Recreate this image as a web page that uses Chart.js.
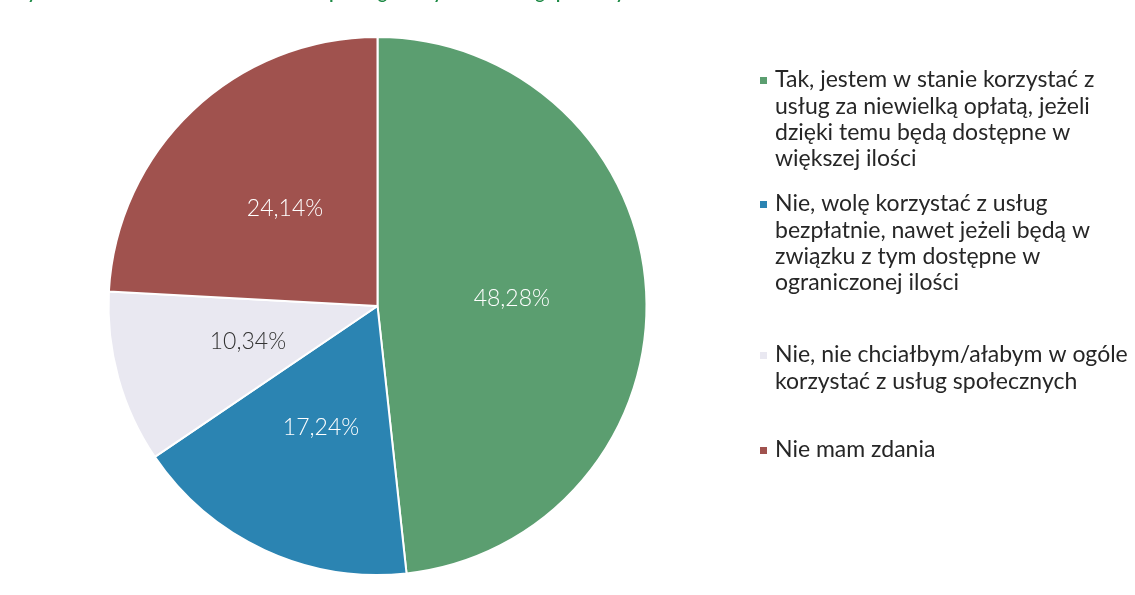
<!DOCTYPE html>
<html>
<head>
<meta charset="utf-8">
<script src="https://cdn.jsdelivr.net/npm/chart.js@4"></script>
<style>
  html, body { margin: 0; padding: 0; background: #fff; }
  #wrap { position: relative; width: 1135px; height: 595px; overflow: hidden; }
  #title {
    position: absolute; left: 10px; top: -18px;
    font: bold 17px Lato, sans-serif; color: #1d8a45; white-space: nowrap;
  }
</style>
</head>
<body>
<div id="wrap">
  <div id="title">Wykres 20. Gotowość mieszkańców do odpłatnego korzystania z usług społecznych</div>
  <canvas id="myChart" width="1135" height="595"></canvas>
</div>
<script>
const labels = [
  ['Tak, jestem w stanie korzystać z', 'usług za niewielką opłatą, jeżeli', 'dzięki temu będą dostępne w', 'większej ilości'],
  ['Nie, wolę korzystać z usług', 'bezpłatnie, nawet jeżeli będą w', 'związku z tym dostępne w', 'ograniczonej ilości'],
  ['Nie, nie chciałbym/ałabym w ogóle', 'korzystać z usług społecznych'],
  ['Nie mam zdania']
];
const values = [48.28, 17.24, 10.34, 24.14];

const colors = ['#5b9e70', '#2b84b2', '#e9e8f1', '#a0524e'];
const labelColors = ['#ffffff', '#ffffff', '#333333', '#ffffff'];
const legendTops = [80, 204, 355, 450];

// percentage labels inside the slices
const sliceLabels = {
  id: 'sliceLabels',
  afterDatasetsDraw(chart) {
    const ctx = chart.ctx;
    const meta = chart.getDatasetMeta(0);
    ctx.save();
    ctx.font = '300 23px Lato, sans-serif';
    ctx.textAlign = 'center';
    ctx.textBaseline = 'middle';
    meta.data.forEach((arc, i) => {
      const p = arc.tooltipPosition();
      ctx.fillStyle = labelColors[i];
      ctx.fillText(values[i].toFixed(2).replace('.', ',') + '%', p.x, p.y);
    });
    ctx.restore();
  }
};

// legend on the right, wrapped like the original
const sideLegend = {
  id: 'sideLegend',
  afterDraw(chart) {
    const ctx = chart.ctx;
    ctx.save();
    ctx.font = '23px Lato, sans-serif';
    ctx.textBaseline = 'middle';
    labels.forEach((lines, i) => {
      const y0 = legendTops[i];
      ctx.fillStyle = colors[i];
      ctx.fillRect(760, y0 - 3, 7, 7);
      ctx.fillStyle = '#262626';
      lines.forEach((line, j) => {
        ctx.fillText(line, 775, y0 + j * 26.3);
      });
    });
    ctx.restore();
  }
};

const ctx = document.getElementById('myChart').getContext('2d');

const myChart = new Chart(ctx, {
  type: 'pie',
  data: {
    labels: labels.map(l => l.join(' ')),
    datasets: [{
      data: values,
      backgroundColor: colors,
      borderColor: '#ffffff',
      borderWidth: 2
    }]
  },
  options: {
    responsive: false,
    animation: false,
    layout: { padding: { left: 107, right: 487, top: 36, bottom: 19 } },
    plugins: {
      legend: { display: false },
      tooltip: { enabled: false }
    }
  },
  plugins: [sliceLabels, sideLegend]
});
</script>
</body>
</html>
